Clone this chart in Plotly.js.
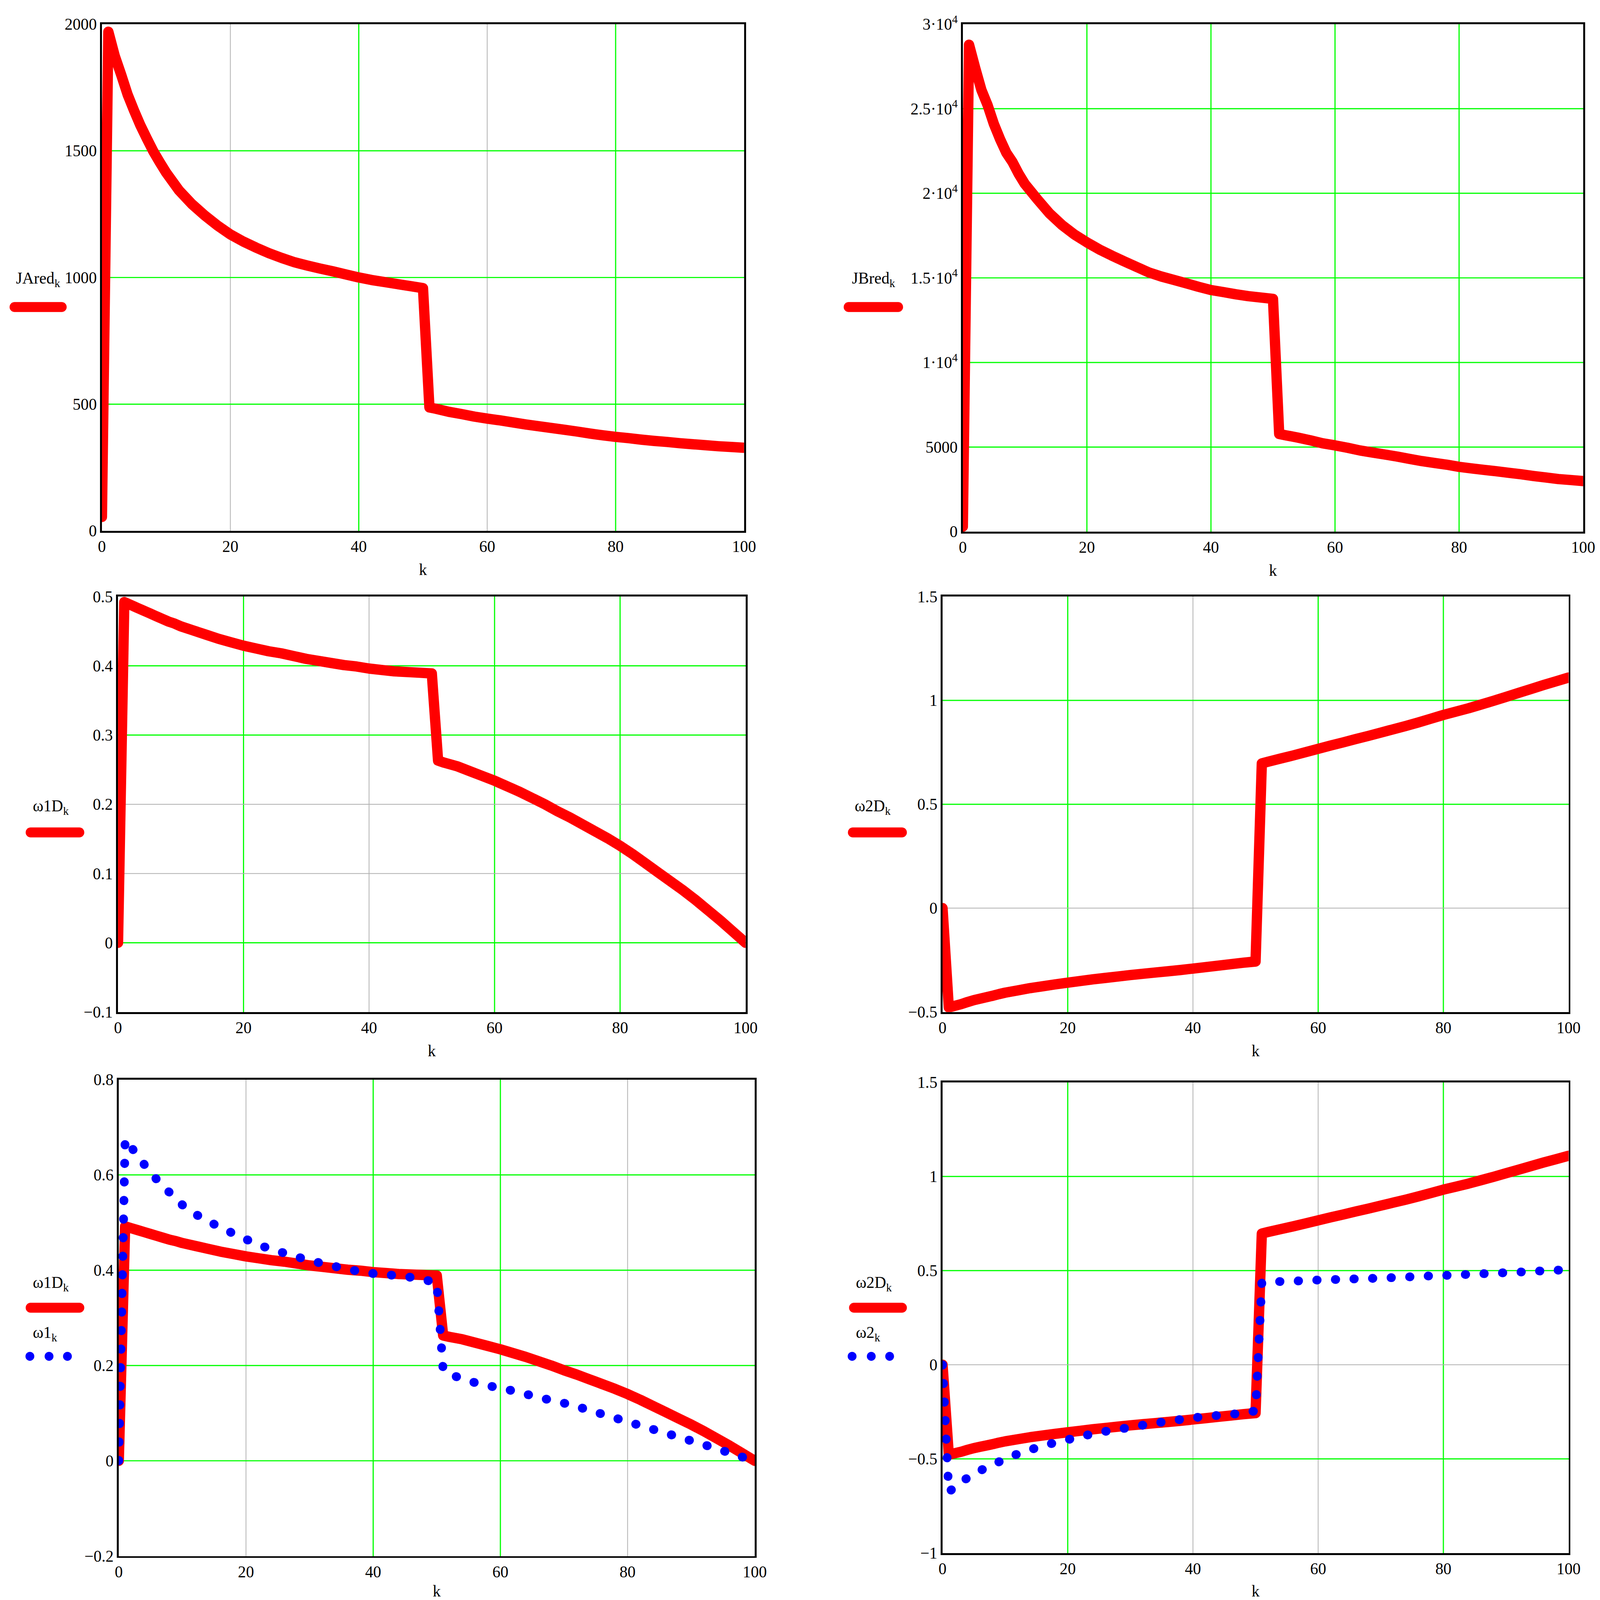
<!DOCTYPE html>
<html>
<head>
<meta charset="utf-8">
<script src="https://cdn.plot.ly/plotly-3.0.1.min.js"></script>
<style>
  html, body { margin: 0; padding: 0; background: #fff; overflow: hidden; }
  #chart .js-line, #chart .shapelayer path { stroke-linecap: round; stroke-linejoin: round; }
</style>
</head>
<body>
<div id="chart"></div>
<script>
// sample index
const k = [0, 1, 2, 3, 4, 5, 6, 7, 8, 9, 10,
           12, 14, 16, 18, 20, 22, 24, 26, 28, 30, 32, 34, 36, 38, 40, 42, 44, 46, 48, 50,
           51, 52, 54, 56, 58, 60, 62, 64, 66, 68, 70, 72, 74, 76, 78, 80, 82, 84, 86, 88, 90, 92, 94, 96, 98, 100];

const JAred = [55, 1970, 1874, 1800, 1722, 1659, 1600, 1548, 1498, 1455, 1414,
               1344, 1290, 1245, 1205, 1170, 1142, 1118, 1096, 1077, 1060, 1047, 1035, 1024, 1012, 1000, 990, 982, 974, 966, 958,
               487, 482, 470, 461, 451, 443, 436, 428, 420, 413, 406, 399, 392, 384, 377, 371, 366, 360, 355, 351, 346, 342, 338, 334, 331, 328];
const JBred = [300, 28780, 27400, 26100, 25200, 24100, 23200, 22400, 21850, 21150, 20550,
               19650, 18800, 18120, 17560, 17100, 16680, 16320, 15980, 15650, 15320, 15080, 14880, 14680, 14470, 14280, 14160, 14030, 13920, 13840, 13760,
               5770, 5700, 5560, 5400, 5220, 5100, 4960, 4800, 4680, 4560, 4440, 4300, 4170, 4060, 3960, 3830, 3740, 3650, 3570, 3480, 3390, 3290, 3200, 3110, 3050, 2990];
const w1D = [0, 0.492, 0.488, 0.484, 0.480, 0.476, 0.472, 0.468, 0.464, 0.461, 0.457,
             0.451, 0.445, 0.439, 0.434, 0.429, 0.425, 0.421, 0.418, 0.414, 0.410, 0.407, 0.404, 0.401, 0.399, 0.396, 0.394, 0.392, 0.391, 0.390, 0.389,
             0.263, 0.260, 0.255, 0.248, 0.241, 0.234, 0.226, 0.218, 0.209, 0.200, 0.190, 0.181, 0.171, 0.161, 0.151, 0.140, 0.128, 0.115, 0.102, 0.089, 0.076, 0.062, 0.047, 0.032, 0.016, 0.0];
const w2D = [0, -0.478, -0.470, -0.462, -0.452, -0.443, -0.436, -0.429, -0.422, -0.414, -0.407,
             -0.396, -0.385, -0.376, -0.367, -0.359, -0.351, -0.343, -0.336, -0.329, -0.322, -0.316, -0.310, -0.304, -0.298, -0.291, -0.284, -0.277, -0.270, -0.263, -0.257,
             0.697, 0.705, 0.720, 0.735, 0.751, 0.767, 0.783, 0.798, 0.814, 0.829, 0.845, 0.861, 0.877, 0.894, 0.912, 0.930, 0.946, 0.962, 0.980, 0.998, 1.017, 1.036, 1.055, 1.074, 1.092, 1.110];
const w1 = [0, 0.675, 0.657, 0.641, 0.622, 0.605, 0.590, 0.575, 0.563, 0.550, 0.537,
            0.518, 0.503, 0.490, 0.477, 0.465, 0.453, 0.444, 0.436, 0.428, 0.421, 0.414, 0.408, 0.402, 0.397, 0.393, 0.391, 0.388, 0.385, 0.380, 0.374,
            0.190, 0.182, 0.172, 0.164, 0.158, 0.152, 0.147, 0.140, 0.133, 0.127, 0.121, 0.114, 0.106, 0.098, 0.090, 0.082, 0.074, 0.066, 0.058, 0.050, 0.042, 0.034, 0.025, 0.017, 0.008, 0.0];
const w2 = [0, -0.675, -0.650, -0.625, -0.600, -0.578, -0.562, -0.548, -0.533, -0.516, -0.500,
            -0.474, -0.452, -0.430, -0.414, -0.398, -0.382, -0.367, -0.354, -0.343, -0.333, -0.321, -0.310, -0.300, -0.291, -0.282, -0.275, -0.269, -0.264, -0.257, -0.245,
            0.435, 0.440, 0.442, 0.444, 0.447, 0.450, 0.452, 0.454, 0.456, 0.458, 0.460, 0.463, 0.466, 0.469, 0.472, 0.474, 0.477, 0.480, 0.483, 0.486, 0.489, 0.492, 0.495, 0.499, 0.502, 0.504];

// tick labels
const kTicks = [0, 20, 40, 60, 80, 100];
const jaTicks = [0, 500, 1000, 1500, 2000];
const jbTicks = [0, 5000, 10000, 15000, 20000, 25000, 30000];
const jbTickText = ['0', '5000', '1·10<sup>4</sup>', '1.5·10<sup>4</sup>', '2·10<sup>4</sup>', '2.5·10<sup>4</sup>', '3·10<sup>4</sup>'];
const w1DTicks = [-0.1, 0, 0.1, 0.2, 0.3, 0.4, 0.5];
const w1DTickText = ['\u22120.1', '0', '0.1', '0.2', '0.3', '0.4', '0.5'];
const w2DTicks = [-0.5, 0, 0.5, 1, 1.5];
const w2DTickText = ['\u22120.5', '0', '0.5', '1', '1.5'];
const w1Ticks = [-0.2, 0, 0.2, 0.4, 0.6, 0.8];
const w1TickText = ['\u22120.2', '0', '0.2', '0.4', '0.6', '0.8'];
const w2Ticks = [-1, -0.5, 0, 0.5, 1, 1.5];
const w2TickText = ['\u22121', '\u22120.5', '0', '0.5', '1', '1.5'];

// everything below is laid out on a 4176 x 4117 grid, then fitted to the window
const W = 4176, H = 4117;
const pageW = window.innerWidth || W, pageH = window.innerHeight || H;
const s = Math.min(pageW / W, pageH / H);
const px = (x) => x / W;
const py = (y) => 1 - y / H;
const font = { family: 'Liberation Serif, Times New Roman, serif', size: 42 * s, color: '#000' };
const RED = '#ff0000', BLUE = '#0000ff', GREEN = '#00ff00', GRAY = '#b0b0b0';

// box = [left, top, right, bottom] in px
const panels = [
  { box: [266, 62, 1942, 1366], yr: [0, 2000], yt: jaTicks, ytt: jaTicks.map(String),
    gx: [40, 80], sx: [20, 60], gy: [500, 1000, 1500], sy: [],
    lines: [JAred], dots: [],
    leg: [{ t: 'JAred<sub>k</sub>', x: 40, y: 719, line: [38, 161, 790] }] },
  { box: [2513, 62, 4132, 1368], yr: [0, 30000], yt: jbTicks, ytt: jbTickText,
    gx: [20, 40, 60, 80], sx: [], gy: [5000, 10000, 15000, 20000, 25000], sy: [],
    lines: [JBred], dots: [],
    leg: [{ t: 'JBred<sub>k</sub>', x: 2222, y: 719, line: [2215, 2344, 790] }] },
  { box: [308, 1535, 1946, 2604], yr: [-0.1, 0.5], yt: w1DTicks, ytt: w1DTickText,
    gx: [20, 60, 80], sx: [40], gy: [0, 0.3, 0.4], sy: [0.1, 0.2],
    lines: [w1D], dots: [],
    leg: [{ t: 'ω1D<sub>k</sub>', x: 84, y: 2077, line: [80, 207, 2142] }] },
  { box: [2460, 1535, 4094, 2604], yr: [-0.5, 1.5], yt: w2DTicks, ytt: w2DTickText,
    gx: [20, 60, 80], sx: [40], gy: [0.5, 1], sy: [0],
    lines: [w2D], dots: [],
    leg: [{ t: 'ω2D<sub>k</sub>', x: 2229, y: 2077, line: [2226, 2354, 2142] }] },
  { box: [310, 2778, 1970, 4004], yr: [-0.2, 0.8], yt: w1Ticks, ytt: w1TickText,
    gx: [40, 60], sx: [20, 80], gy: [0, 0.2, 0.4, 0.6], sy: [],
    lines: [w1D], dots: [w1],
    leg: [{ t: 'ω1D<sub>k</sub>', x: 84, y: 3303, line: [80, 207, 3365] },
          { t: 'ω1<sub>k</sub>', x: 84, y: 3432, dots: [78, 128, 176, 3490] }] },
  { box: [2460, 2785, 4094, 3996], yr: [-1, 1.5], yt: w2Ticks, ytt: w2TickText,
    gx: [20, 80], sx: [40, 60], gy: [-0.5, 0.5, 1], sy: [0],
    lines: [w2D], dots: [w2],
    leg: [{ t: 'ω2D<sub>k</sub>', x: 2232, y: 3303, line: [2229, 2354, 3365] },
          { t: 'ω2<sub>k</sub>', x: 2232, y: 3432, dots: [2224, 2274, 2322, 3490] }] }
];

const data = [];
const shapes = [];
const annotations = [];
const layout = {
  width: pageW, height: pageH, margin: { l: 0, r: 0, t: 0, b: 0 },
  paper_bgcolor: '#fff', plot_bgcolor: '#fff', showlegend: false,
  font: font, shapes: shapes, annotations: annotations
};

panels.forEach((p, i) => {
  const n = i === 0 ? '' : String(i + 1);
  const xId = 'x' + n, yId = 'y' + n;
  const [l, t, r, b] = p.box;
  layout['xaxis' + n] = {
    domain: [px(l), px(r)], anchor: yId, range: [0, 100],
    tickmode: 'array', tickvals: kTicks, ticktext: kTicks.map(String),
    showgrid: false, zeroline: false, showline: true, mirror: true,
    linecolor: '#000', linewidth: 5 * s, ticks: '', tickfont: font,
    title: { text: 'k', font: font, standoff: 24 * s }, fixedrange: true
  };
  layout['yaxis' + n] = {
    domain: [py(b), py(t)], anchor: xId, range: p.yr,
    tickmode: 'array', tickvals: p.yt, ticktext: p.ytt,
    showgrid: false, zeroline: false, showline: true, mirror: true,
    linecolor: '#000', linewidth: 5 * s, ticks: '', tickfont: font,
    ticklabelstandoff: 6 * s, fixedrange: true
  };
  // grid lines, green and grey as in the original
  const gridX = (v, c, w) => shapes.push({ type: 'line', layer: 'below', xref: xId, yref: yId + ' domain',
    x0: v, x1: v, y0: 0, y1: 1, line: { color: c, width: w * s } });
  const gridY = (v, c, w) => shapes.push({ type: 'line', layer: 'below', xref: xId + ' domain', yref: yId,
    x0: 0, x1: 1, y0: v, y1: v, line: { color: c, width: w * s } });
  p.gx.forEach(v => gridX(v, GREEN, 3));
  p.sx.forEach(v => gridX(v, GRAY, 2));
  p.gy.forEach(v => gridY(v, GREEN, 3));
  p.sy.forEach(v => gridY(v, GRAY, 2));

  p.lines.forEach(y => data.push({
    x: k, y: y, xaxis: xId, yaxis: yId, type: 'scatter', mode: 'lines',
    line: { color: RED, width: 27 * s, simplify: false }, hoverinfo: 'skip'
  }));
  p.dots.forEach(y => data.push({
    x: k, y: y, xaxis: xId, yaxis: yId, type: 'scatter', mode: 'lines',
    line: { color: BLUE, width: 23 * s, simplify: false, dash: (1 * s) + 'px,' + (47.5 * s) + 'px' }, hoverinfo: 'skip'
  }));

  p.leg.forEach(g => {
    annotations.push({ text: g.t, xref: 'paper', yref: 'paper', x: px(g.x), y: py(g.y),
      xanchor: 'left', yanchor: 'middle', showarrow: false, font: font });
    if (g.line) {
      shapes.push({ type: 'line', xref: 'paper', yref: 'paper',
        x0: px(g.line[0]), x1: px(g.line[1]), y0: py(g.line[2]), y1: py(g.line[2]),
        line: { color: RED, width: 26 * s } });
    }
    if (g.dots) {
      const cy = g.dots[3], rr = 11.5;
      g.dots.slice(0, 3).forEach(cx => shapes.push({ type: 'circle', xref: 'paper', yref: 'paper',
        x0: px(cx - rr), x1: px(cx + rr), y0: py(cy + rr), y1: py(cy - rr),
        fillcolor: BLUE, line: { width: 0 } }));
    }
  });
});

Plotly.newPlot('chart', data, layout, { staticPlot: true });
</script>
</body>
</html>
